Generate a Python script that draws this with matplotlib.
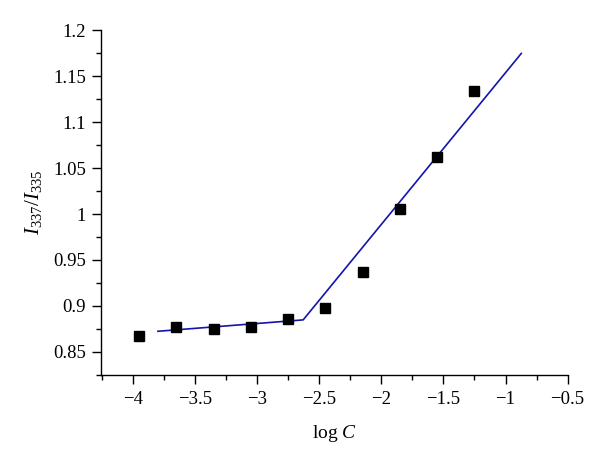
import matplotlib
matplotlib.use("Agg")
import matplotlib.pyplot as plt
from matplotlib.ticker import MultipleLocator, FuncFormatter

plt.rcParams['font.family'] = ['Liberation Serif', 'DejaVu Serif']
plt.rcParams['mathtext.fontset'] = 'custom'
plt.rcParams['mathtext.rm'] = 'Liberation Serif'
plt.rcParams['mathtext.it'] = 'Liberation Serif:italic'

log_c = [-3.955, -3.656, -3.348, -3.054, -2.752, -2.455, -2.152, -1.851, -1.555, -1.257]
ratio = [0.867, 0.877, 0.875, 0.877, 0.886, 0.898, 0.937, 1.006, 1.062, 1.134]
fit_x = [-3.80, -2.63, -0.873]
fit_y = [0.8723, 0.8847, 1.175]

fig = plt.figure(figsize=(6, 4.62), dpi=100)
ax = fig.add_axes([0.168, 0.189, 0.778, 0.745])

ax.plot(fit_x, fit_y, color='#1414aa', lw=1.2, zorder=2)
ax.plot(log_c, ratio, 's', color='black', markersize=7, zorder=3)

ax.set_xlim(-4.26, -0.5)
ax.set_ylim(0.825, 1.2)
ax.xaxis.set_major_locator(MultipleLocator(0.5))
ax.xaxis.set_minor_locator(MultipleLocator(0.25))
ax.yaxis.set_major_locator(MultipleLocator(0.05))
ax.yaxis.set_minor_locator(MultipleLocator(0.025))

def fmt(v, pos):
    s = ('%.2f' % v).rstrip('0').rstrip('.')
    if s in ('-0', '0'):
        s = '0'
    return s.replace('-', '\u2212')

ax.xaxis.set_major_formatter(FuncFormatter(fmt))
ax.yaxis.set_major_formatter(FuncFormatter(fmt))

for s in ('top', 'right'):
    ax.spines[s].set_visible(False)
for s in ('left', 'bottom'):
    ax.spines[s].set_linewidth(1.0)
ax.tick_params(which='major', direction='out', length=6.5, width=1.0, labelsize=13.5)
ax.tick_params(which='minor', direction='out', length=3.5, width=1.0)
ax.tick_params(axis='x', pad=5)
ax.tick_params(axis='y', pad=4)

ax.set_xlabel(r'log $\mathit{C}$', fontsize=14, labelpad=11)
ax.set_ylabel(r'$\mathit{I}_{337}/\mathit{I}_{335}$', fontsize=15, labelpad=7)

fig.savefig('out.png', dpi=100)
